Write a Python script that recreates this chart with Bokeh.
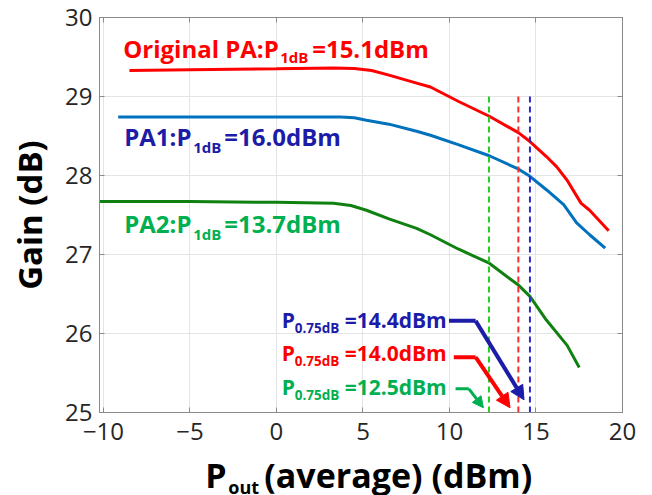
from bokeh.plotting import figure
from bokeh.layouts import column
from bokeh.models import (Range1d, LinearAxis, FixedTicker, Label, Arrow, NormalHead)
from bokeh.embed import file_html
from bokeh.resources import INLINE

# ---------------- data ----------------
orig_x = [-8.5, -5, 0, 3.3, 4.5, 5.5, 6.5, 8.1, 8.9, 10.5, 12.3, 14.0, 14.65, 15.6, 16.2, 16.8, 17.6, 18.1, 19.2]
orig_y = [29.33, 29.34, 29.35, 29.36, 29.355, 29.33, 29.27, 29.17, 29.12, 28.94, 28.75, 28.54, 28.43, 28.24, 28.11, 27.94, 27.65, 27.56, 27.30]

pa1_x = [-9.15, -5, 0, 3.7, 4.5, 5.2, 6.5, 8.1, 8.9, 10.5, 12.3, 14.0, 14.65, 15.6, 16.6, 17.35, 18.1, 19.0]
pa1_y = [28.74, 28.74, 28.74, 28.74, 28.73, 28.70, 28.65, 28.56, 28.51, 28.39, 28.25, 28.08, 27.99, 27.82, 27.63, 27.40, 27.25, 27.08]

pa2_x = [-10.2, -5, 0, 3.3, 4.3, 5.2, 6.5, 8.1, 8.9, 10.5, 12.3, 14.0, 14.65, 15.6, 16.8, 17.5]
pa2_y = [27.67, 27.67, 27.66, 27.65, 27.62, 27.56, 27.45, 27.33, 27.25, 27.07, 26.89, 26.61, 26.47, 26.17, 25.85, 25.57]

# vertical dashed markers (P0.75dB positions as drawn)
marker_x = [12.28, 13.98, 14.65]
marker_colors = ["#22cc22", "#ff2a2a", "#2a2acc"]
marker_top = 29.02

x_ticks = [-10, -5, 0, 5, 10, 15, 20]
x_tick_labels = ["\u221210", "\u22125", "0", "5", "10", "15", "20"]
y_ticks = [25, 26, 27, 28, 29, 30]

RED = "#ff0000"
BLUE_LINE = "#0072bd"
GREEN_LINE = "#108010"
BLUE_TXT = "#1c1ca8"
GREEN_TXT = "#00b050"
AXIS_C = "#8a8a8a"
TICK_FONT = "Open Sans"
LBL_FONT = "Open Sans"

X_RANGE = (-10.23, 20)
MAIN_H = 456
LABEL_H = 39

p = figure(width=652, height=MAIN_H, output_backend="svg", toolbar_location=None,
           x_range=Range1d(*X_RANGE), y_range=Range1d(25, 30),
           min_border_left=99, min_border_right=30, min_border_top=17, min_border_bottom=44)
p.background_fill_color = "white"
p.border_fill_color = "white"
p.outline_line_color = AXIS_C

for ax in (p.xaxis[0], p.yaxis[0]):
    ax.major_tick_in = 5
    ax.major_tick_out = 0
    ax.minor_tick_line_color = None
    ax.axis_line_color = AXIS_C
    ax.major_tick_line_color = AXIS_C
    ax.major_label_text_font = TICK_FONT
    ax.major_label_text_font_size = "24px"
    ax.major_label_text_color = "#262626"

p.xaxis[0].ticker = FixedTicker(ticks=x_ticks)
p.xaxis[0].major_label_overrides = {t: s for t, s in zip(x_ticks, x_tick_labels)}
p.xaxis[0].major_label_standoff = 10
p.yaxis[0].ticker = FixedTicker(ticks=y_ticks)
p.yaxis[0].major_label_standoff = 7
p.yaxis[0].axis_label = "Gain (dB)"
p.yaxis[0].axis_label_text_font = LBL_FONT
p.yaxis[0].axis_label_text_font_size = "33px"
p.yaxis[0].axis_label_text_font_style = "bold"
p.yaxis[0].axis_label_text_color = "black"
p.yaxis[0].axis_label_standoff = 10

# box ticks on top and right
blank_x = {t: "" for t in x_ticks}
blank_y = {t: "" for t in y_ticks}
top_ax = LinearAxis(ticker=FixedTicker(ticks=x_ticks), major_label_overrides=blank_x,
                    major_label_text_font_size="1px",
                    major_label_standoff=0, major_tick_in=5, major_tick_out=0,
                    minor_tick_line_color=None, axis_line_color=AXIS_C, major_tick_line_color=AXIS_C)
right_ax = LinearAxis(ticker=FixedTicker(ticks=y_ticks), major_label_overrides=blank_y,
                      major_label_text_font_size="1px",
                      major_label_standoff=0, major_tick_in=5, major_tick_out=0,
                      minor_tick_line_color=None, axis_line_color=AXIS_C, major_tick_line_color=AXIS_C)
p.add_layout(top_ax, "above")
p.add_layout(right_ax, "right")

p.grid.grid_line_color = "#e4e4e4"
p.xgrid.ticker = FixedTicker(ticks=x_ticks)
p.ygrid.ticker = FixedTicker(ticks=y_ticks)

# curves
p.line(orig_x, orig_y, line_color=RED, line_width=3)
p.line(pa1_x, pa1_y, line_color=BLUE_LINE, line_width=3)
p.line(pa2_x, pa2_y, line_color=GREEN_LINE, line_width=3)

# dashed markers
for mx, mc in zip(marker_x, marker_colors):
    p.line([mx, mx], [25, marker_top], line_color=mc, line_width=2, line_dash="6 4")

# arrows: horizontal leader + diagonal arrow
arrow_specs = [
    # (x0, xk, y0, x_end, y_end, color, width, head)
    (9.97, 11.51, 26.16, 14.31, 25.16, BLUE_TXT, 4, 14),
    (10.25, 11.51, 25.70, 13.50, 25.06, RED, 4, 14),
    (10.35, 11.12, 25.30, 11.96, 25.06, GREEN_TXT, 3, 11),
]
for x0, xk, y0, xe, ye, c, w, hs in arrow_specs:
    p.line([x0, xk], [y0, y0], line_color=c, line_width=w)
    p.add_layout(Arrow(end=NormalHead(size=hs, fill_color=c, line_color=c),
                       x_start=xk, y_start=y0, x_end=xe, y_end=ye,
                       line_color=c, line_width=w))

SHIFT_K = 0.4  # correction of rendered baseline, fraction of font size


def lab(fig, x, y, text, size, color, xo=0, yo=0, bold=True):
    fig.add_layout(Label(x=x, y=y, text=text, x_offset=xo, y_offset=yo + SHIFT_K * size,
                         text_font=LBL_FONT, text_font_size=f"{size}px",
                         text_font_style="bold" if bold else "normal",
                         text_color=color, text_baseline="alphabetic", text_align="left"))


# top labels
lab(p, -8.86, 29.485, "Original PA:P", 24, RED)
lab(p, -8.86, 29.485, "1dB", 15, RED, xo=157, yo=-5)
lab(p, -8.86, 29.485, "=15.1dBm", 24, RED, xo=189)

lab(p, -8.80, 28.371, "PA1:P", 24, BLUE_TXT)
lab(p, -8.80, 28.371, "1dB", 15, BLUE_TXT, xo=69, yo=-7)
lab(p, -8.80, 28.371, "=16.0dBm", 24, BLUE_TXT, xo=100)

lab(p, -8.80, 27.273, "PA2:P", 24, GREEN_TXT)
lab(p, -8.80, 27.273, "1dB", 15, GREEN_TXT, xo=69, yo=-7)
lab(p, -8.80, 27.273, "=13.7dBm", 24, GREEN_TXT, xo=100)

# lower annotations
for y, txt, c in [(26.063, "=14.4dBm", BLUE_TXT), (25.641, "=14.0dBm", RED), (25.219, "=12.5dBm", GREEN_TXT)]:
    lab(p, 0.30, y, "P", 21, c)
    lab(p, 0.30, y, "0.75dB", 13.5, c, xo=13, yo=-5)
    lab(p, 0.30, y, txt, 21, c, xo=63)

# x axis title strip (separate figure so the subscript can be drawn)
q = figure(width=652, height=LABEL_H, output_backend="svg", toolbar_location=None,
           x_range=Range1d(*X_RANGE), y_range=Range1d(0, LABEL_H),
           x_axis_type=None, y_axis_type=None,
           min_border_left=99, min_border_right=30, min_border_top=0, min_border_bottom=0)
q.outline_line_color = None
q.background_fill_color = "white"
q.border_fill_color = "white"
lab(q, -4.115, 7, "P", 34, "black")
lab(q, -4.115, 7, "out", 18, "black", xo=23, yo=-6)
lab(q, -4.115, 7, "(average) (dBm)", 34, "black", xo=59)

layout = column(p, q, spacing=0)
open("out.html", "w").write(file_html(layout, INLINE))
